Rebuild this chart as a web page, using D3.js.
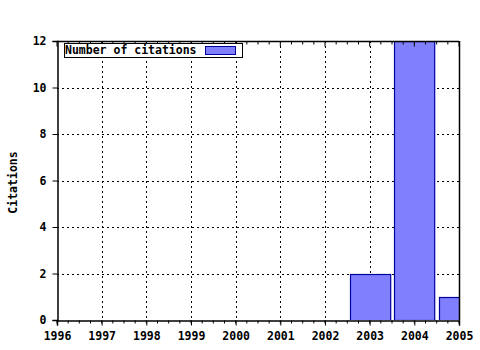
<!DOCTYPE html>
<html>
<head>
<meta charset="utf-8">
<script src="https://cdn.jsdelivr.net/npm/d3@7"></script>
<style>
  body { margin: 0; background: #fff; }
  text { font-family: "DejaVu Sans Mono", monospace; font-weight: bold; font-size: 11.5px; fill: #000; }
</style>
</head>
<body>
<svg id="chart"></svg>
<script>
// data
const years = [2003, 2004, 2005];
const citations = [2, 12, 1];
const yearTicks = [1996, 1997, 1998, 1999, 2000, 2001, 2002, 2003, 2004, 2005];
const citationTicks = [0, 2, 4, 6, 8, 10, 12];
const seriesName = "Number of citations";
const yLabel = "Citations";

function drawChart(svg_id, width, height) {
    const svg = d3.select(svg_id)
        .attr("width", width)
        .attr("height", height)
        .attr("viewBox", [0, 0, width, height]);

    const left = 57, right = 459, top = 41, bottom = 320;

    // x and y scale
    const x_scale = d3.scaleLinear().domain([1996, 2005]).range([left, right]);
    const y_scale = d3.scaleLinear().domain([0, 12]).range([bottom, top]);

    svg.append("defs").append("clipPath").attr("id", "plotClip")
        .append("rect")
        .attr("x", left).attr("y", top)
        .attr("width", right - left).attr("height", bottom - top);

    // dotted grid
    const grid = svg.append("g");
    grid.selectAll(".gx")
        .data(yearTicks.slice(1, -1))
        .join("line")
        .attr("x1", d => Math.round(x_scale(d)) + 0.5).attr("x2", d => Math.round(x_scale(d)) + 0.5)
        .attr("y1", top).attr("y2", bottom)
        .attr("stroke", "#000").attr("stroke-dasharray", "2,3");
    grid.selectAll(".gy")
        .data(citationTicks.slice(1, -1))
        .join("line")
        .attr("x1", left).attr("x2", right)
        .attr("y1", d => Math.round(y_scale(d)) + 0.5).attr("y2", d => Math.round(y_scale(d)) + 0.5)
        .attr("stroke", "#000").attr("stroke-dasharray", "2,3");

    // bars
    const barW = (x_scale(1997) - x_scale(1996)) * 0.9;
    svg.append("g").attr("clip-path", "url(#plotClip)")
        .selectAll("rect")
        .data(years.map((y, i) => ({ year: y, value: citations[i] })))
        .join("rect")
        .attr("x", d => Math.round(x_scale(d.year) - barW / 2) + 0.5)
        .attr("y", d => Math.round(y_scale(d.value)) + 0.5)
        .attr("width", barW)
        .attr("height", d => y_scale(0) - y_scale(d.value))
        .attr("fill", "#8080ff")
        .attr("stroke", "#0000a0")
        .attr("stroke-width", 1.2);

    // minor ticks (quarter years)
    const minor = d3.range(1996, 2005.01, 0.25);

    // bottom axis
    const gX = svg.append("g")
        .attr("transform", `translate(0, ${bottom + 0.5})`)
        .call(d3.axisBottom(x_scale).tickValues(yearTicks).tickFormat(d3.format("d")).tickSize(5).tickPadding(6));
    gX.select(".domain").attr("stroke-width", 1.5);
    gX.append("g").selectAll("line")
        .data(minor)
        .join("line")
        .attr("x1", d => x_scale(d)).attr("x2", d => x_scale(d))
        .attr("y1", 0).attr("y2", 3)
        .attr("stroke", "#000");
    gX.selectAll("text").style("font-size", "11.5px").style("font-family", "'DejaVu Sans Mono', monospace").style("font-weight", "bold");

    // top border with minor ticks
    const gTop = svg.append("g").attr("transform", `translate(0, ${top + 0.5})`);
    gTop.append("line").attr("x1", left).attr("x2", right).attr("stroke", "#000").attr("stroke-width", 1.5);
    gTop.selectAll(".t")
        .data(minor)
        .join("line")
        .attr("x1", d => x_scale(d)).attr("x2", d => x_scale(d))
        .attr("y1", 0).attr("y2", d => Number.isInteger(d) ? 5 : 3)
        .attr("stroke", "#000");

    // right border
    svg.append("line")
        .attr("x1", right + 0.5).attr("x2", right + 0.5)
        .attr("y1", top).attr("y2", bottom)
        .attr("stroke", "#000").attr("stroke-width", 1.5);

    // left axis
    const gY = svg.append("g")
        .attr("transform", `translate(${left + 0.5}, 0)`)
        .call(d3.axisLeft(y_scale).tickValues(citationTicks).tickSize(5).tickPadding(6));
    gY.select(".domain").attr("stroke-width", 1.5);
    gY.selectAll("text").style("font-size", "11.5px").style("font-family", "'DejaVu Sans Mono', monospace").style("font-weight", "bold");

    // y label
    svg.append("text")
        .attr("transform", `translate(17, ${(top + bottom) / 2 + 2}) rotate(-90)`)
        .attr("text-anchor", "middle")
        .text(yLabel);

    // legend
    const legend = svg.append("g").attr("transform", "translate(64, 43)");
    legend.append("rect")
        .attr("x", 0.5).attr("y", 0.5).attr("width", 178).attr("height", 14)
        .attr("fill", "#fff").attr("stroke", "#000");
    legend.append("text").attr("x", 1).attr("y", 11).text(seriesName);
    legend.append("rect")
        .attr("x", 141.5).attr("y", 3.5).attr("width", 30).attr("height", 8)
        .attr("fill", "#8080ff").attr("stroke", "#0000a0");
}

drawChart("#chart", 480, 350);
</script>
</body>
</html>
